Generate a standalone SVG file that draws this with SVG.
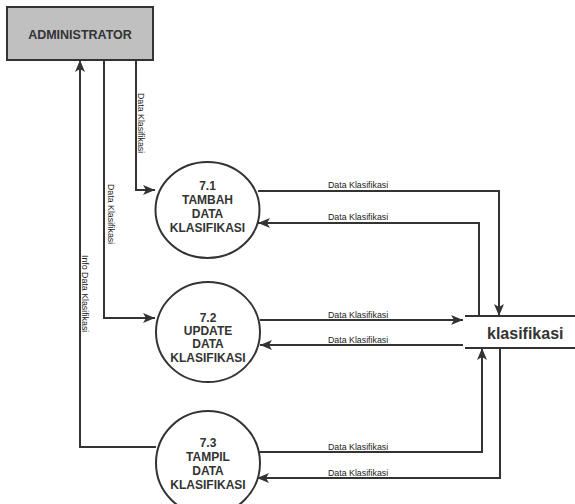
<svg xmlns="http://www.w3.org/2000/svg" width="575" height="504" viewBox="0 0 575 504">
  <defs>
    <marker id="arrow" viewBox="0 0 12 10" refX="12" refY="5" markerWidth="12" markerHeight="10" markerUnits="userSpaceOnUse" orient="auto">
      <path d="M0,0 L12,5 L0,10 L3,5 Z" fill="#333"/>
    </marker>
    <style>
      .flow { fill: none; stroke: #333; stroke-width: 2; }
      .flow-in { marker-end: url(#arrow); }
      .label { font-family: "Liberation Sans", Arial, sans-serif; font-size: 8.8px; fill: #222; }
      .proc { fill: #fff; stroke: #333; stroke-width: 2; }
      .proc-text { font-family: "Liberation Sans", Arial, sans-serif; font-size: 12px; font-weight: bold; fill: #333; text-anchor: middle; }
      .entity { fill: #c0c0c0; stroke: #333; stroke-width: 2; }
      .entity-text { font-family: "Liberation Sans", Arial, sans-serif; font-size: 12.5px; font-weight: bold; fill: #333; text-anchor: middle; }
      .store { fill: none; stroke: #333; stroke-width: 2; }
      .store-text { font-family: "Liberation Sans", Arial, sans-serif; font-size: 16px; font-weight: bold; fill: #333; }
    </style>
  </defs>

  <!-- data flows -->
  <g id="connectors">
    <!-- 7.3 back to the administrator -->
    <path class="flow flow-in" d="M156,447 H80 V60"/>
    <text class="label" transform="translate(82,255) rotate(90)">Info Data Klasifikasi</text>
    <!-- administrator to 7.2 -->
    <path class="flow flow-in" d="M104,60 V318 H155"/>
    <text class="label" transform="translate(107.5,184) rotate(90)">Data Klasifikasi</text>
    <!-- administrator to 7.1 -->
    <path class="flow flow-in" d="M136,60 V190 H155"/>
    <text class="label" transform="translate(137.5,93) rotate(90)">Data Klasifikasi</text>

    <!-- 7.1 and the store -->
    <path class="flow flow-in" d="M258,191 H499 V316"/>
    <text class="label" x="328" y="188">Data Klasifikasi</text>
    <path class="flow flow-in" d="M479,316 V223 H258"/>
    <text class="label" x="328" y="220">Data Klasifikasi</text>

    <!-- 7.2 and the store -->
    <path class="flow flow-in" d="M260,320 H463"/>
    <text class="label" x="328" y="318">Data Klasifikasi</text>
    <path class="flow flow-in" d="M463,345 H260"/>
    <text class="label" x="328" y="343">Data Klasifikasi</text>

    <!-- 7.3 and the store -->
    <path class="flow flow-in" d="M258,452 H482 V348"/>
    <text class="label" x="328" y="450">Data Klasifikasi</text>
    <path class="flow flow-in" d="M500,348 V478 H257"/>
    <text class="label" x="328" y="476">Data Klasifikasi</text>
  </g>

  <g id="administrator">
    <rect class="entity" x="7" y="7" width="146" height="53"/>
    <text class="entity-text" x="80" y="38.5">ADMINISTRATOR</text>
  </g>

  <g id="proc-7-1">
    <ellipse class="proc" cx="207.5" cy="210" rx="52" ry="48"/>
    <text class="proc-text" x="207.5" y="190">7.1</text>
    <text class="proc-text" x="207.5" y="204">TAMBAH</text>
    <text class="proc-text" x="207.5" y="218">DATA</text>
    <text class="proc-text" x="207.5" y="232">KLASIFIKASI</text>
  </g>

  <g id="proc-7-2">
    <ellipse class="proc" cx="208" cy="332" rx="52" ry="50"/>
    <text class="proc-text" x="208" y="322">7.2</text>
    <text class="proc-text" x="208" y="335">UPDATE</text>
    <text class="proc-text" x="208" y="348">DATA</text>
    <text class="proc-text" x="208" y="362">KLASIFIKASI</text>
  </g>

  <g id="proc-7-3">
    <ellipse class="proc" cx="208" cy="463" rx="52" ry="52"/>
    <text class="proc-text" x="208" y="447">7.3</text>
    <text class="proc-text" x="208" y="461">TAMPIL</text>
    <text class="proc-text" x="208" y="475">DATA</text>
    <text class="proc-text" x="208" y="489">KLASIFIKASI</text>
  </g>

  <g id="store-klasifikasi">
    <path class="store" d="M465,316 H575 M465,348 H575"/>
    <text class="store-text" x="487" y="338.5">klasifikasi</text>
  </g>
</svg>
